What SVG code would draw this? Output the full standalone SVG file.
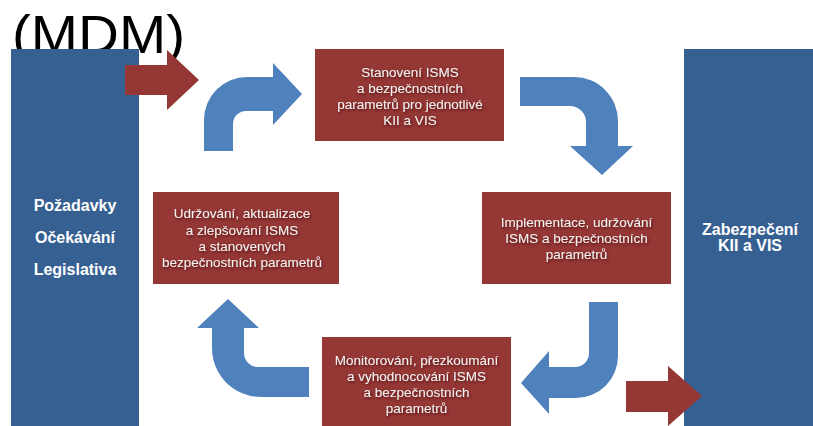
<svg xmlns="http://www.w3.org/2000/svg" width="813" height="426" viewBox="0 0 813 426">
<defs>
<style>
.title{font-family:"Liberation Sans",Arial,sans-serif;font-size:54px;fill:#000}
.side{fill:#366092}
.box{fill:#953735}
.flow{fill:#4F81BD}
.red{fill:#953735}
.bt{font-family:"Liberation Sans",Arial,sans-serif;font-size:13.5px;fill:#f2f2f2;text-anchor:middle;filter:url(#sh)}
.st{font-family:"Liberation Sans",Arial,sans-serif;font-size:16px;font-weight:bold;fill:#ffffff;text-anchor:middle}
</style>
<filter id="sh" x="-20%" y="-50%" width="140%" height="200%">
<feDropShadow dx="1" dy="1.5" stdDeviation="1.5" flood-color="#3a0d0c" flood-opacity="0.7"/>
</filter>
</defs>
<text class="title" x="12" y="53" textLength="173" lengthAdjust="spacingAndGlyphs">(MDM)</text>
<g id="left">
<rect class="side" x="11" y="49" width="128" height="377"/>
<text class="st" x="75" y="211">Požadavky</text>
<text class="st" x="75" y="243">Očekávání</text>
<text class="st" x="75" y="275">Legislativa</text>
</g>
<g id="right">
<rect class="side" x="684" y="49" width="129" height="377"/>
<text class="st" x="750" y="235">Zabezpečení</text>
<text class="st" x="750" y="251">KII a VIS</text>
</g>
<g id="stanoveni">
<rect class="box" x="315" y="49" width="189" height="92"/>
<text class="bt" x="410" y="77">Stanovení ISMS</text>
<text class="bt" x="410" y="93">a bezpečnostních</text>
<text class="bt" x="410" y="109">parametrů pro jednotlivé</text>
<text class="bt" x="410" y="125">KII a VIS</text>
</g>
<g id="implementace">
<rect class="box" x="482" y="192" width="189" height="92"/>
<text class="bt" x="576.5" y="227">Implementace, udržování</text>
<text class="bt" x="576.5" y="243">ISMS a bezpečnostních</text>
<text class="bt" x="576.5" y="259">parametrů</text>
</g>
<g id="udrzovani">
<rect class="box" x="153" y="192" width="186" height="92"/>
<text class="bt" x="242" y="218">Udržování, aktualizace</text>
<text class="bt" x="242" y="235">a zlepšování ISMS</text>
<text class="bt" x="242" y="251">a stanovených</text>
<text class="bt" x="242" y="267">bezpečnostních parametrů</text>
</g>
<g id="monitorovani">
<rect class="box" x="322" y="337" width="189" height="89"/>
<text class="bt" x="416.5" y="365">Monitorování, přezkoumání</text>
<text class="bt" x="416.5" y="381">a vyhodnocování ISMS</text>
<text class="bt" x="416.5" y="397">a bezpečnostních</text>
<text class="bt" x="416.5" y="413">parametrů</text>
</g>
<g id="connectors">
<path class="red" d="M125 65 L167 65 L167 50 L199 80 L167 110 L167 95 L125 95 Z"/>
<path class="red" d="M626 381 L668 381 L668 366 L702 396 L668 426 L668 412 L626 412 Z"/>
<path class="flow" d="M204 151 L204 120 A43 43 0 0 1 247 77 L273 77 L273 63 L302 94 L273 125 L273 111 L246 111 A13 13 0 0 0 233 124 L233 151 Z"/>
<path class="flow" d="M520 77 L574 77 A44 44 0 0 1 618 121 L618 146 L633 146 L602 175 L570 146 L586 146 L586 122 A16 16 0 0 0 570 106 L520 106 Z"/>
<path class="flow" d="M589 302 L618 302 L618 356 A42 42 0 0 1 576 398 L549 398 L549 414 L521 383 L549 351 L549 367 L575 367 A14 14 0 0 0 589 353 Z"/>
<path class="flow" d="M309 367 L258 367 A14 14 0 0 1 244 353 L244 328 L259 328 L228 299 L197 328 L212 328 L212 348 A49 49 0 0 0 261 397 L309 397 Z"/>
</g>
</svg>
